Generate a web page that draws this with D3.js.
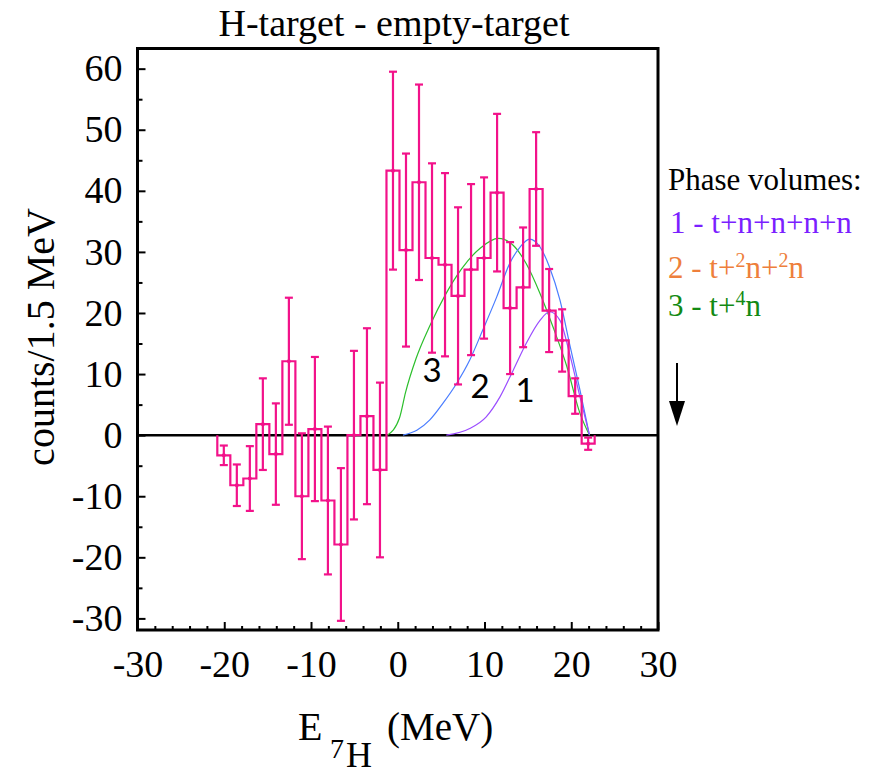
<!DOCTYPE html>
<html>
<head>
<meta charset="utf-8">
<script src="https://cdn.jsdelivr.net/npm/d3@7"></script>
<style>
  body { margin: 0; background: #ffffff; }
  svg { display: block; }
</style>
</head>
<body>
<svg class="vis" width="869" height="776"></svg>
<script>
// histogram: H-target minus empty-target, 1.5 MeV bins
var binCenters = [-20.05, -18.55, -17.05, -15.55, -14.05, -12.55, -11.05, -9.55, -8.05, -6.55,
    -5.05, -3.55, -2.05, -0.55, 0.95, 2.45, 3.95, 5.45, 6.95, 8.45,
    9.95, 11.45, 12.95, 14.45, 15.95, 17.45, 18.95, 20.45, 21.95];
var counts = [-3.3, -8.2, -7.1, 1.8, -3.1, 12.1, -10.0, 1.0, -10.7, -17.9,
    0.0, 3.1, -5.7, 43.3, 30.3, 41.4, 29.0, 27.9, 22.8, 27.1,
    29.0, 39.7, 20.8, 24.2, 40.3, 20.4, 15.5, 6.4, -1.4];
var errors = [1.6, 3.4, 5.3, 7.5, 8.3, 10.4, 10.3, 11.8, 12.1, 12.5,
    13.8, 14.4, 14.3, 16.2, 15.8, 16.0, 15.5, 15.0, 14.5, 14.0,
    13.2, 12.9, 10.8, 9.8, 9.3, 6.8, 5.1, 2.9, 1.0];
var binWidth = 1.5;

// phase volume curves
var phase1E = [5.6, 8.3, 10.2, 11.8, 13.3, 14.8, 16.4, 17.5, 18.7, 19.8, 21.0, 22.1];
var phase1V = [0, 1.1, 3.0, 6.3, 10.6, 15.0, 18.8, 20.2, 18.8, 13.4, 6.3, 0];
var phase2E = [0.6, 2.2, 3.7, 5.2, 6.8, 8.3, 9.8, 11.4, 12.9, 14.1, 15.2, 16.4, 17.5, 18.7, 19.8, 21.0, 22.1];
var phase2V = [0, 0.8, 2.5, 5.2, 8.5, 12.3, 17.2, 22.6, 28.1, 30.8, 32.1, 30.8, 27.5, 22.1, 15.0, 7.4, 0];
var phase3E = [-1.2, 0.2, 0.9, 2.1, 3.7, 5.5, 7.4, 9.5, 11.6, 13.3, 14.8, 16.4, 17.9, 19.5, 21.0, 22.1];
var phase3V = [0, 2.8, 7.0, 12.5, 17.9, 23.0, 27.3, 30.6, 32.2, 31.1, 28.1, 23.2, 17.7, 11.2, 3.6, 0];

var xTicks = [-30, -20, -10, 0, 10, 20, 30];
var xMinorTicks = [-28, -26, -24, -22, -18, -16, -14, -12, -8, -6, -4, -2, 2, 4, 6, 8, 12, 14, 16, 18, 22, 24, 26, 28];
var yTicks = [-30, -20, -10, 0, 10, 20, 30, 40, 50, 60];
var yMinorTicks = [-25, -15, -5, 5, 15, 25, 35, 45, 55];

var serif = "'Liberation Serif', 'Times New Roman', serif";
var pink = "#f2128a";

var svg = d3.select(".vis");

var x = d3.scaleLinear().domain([-30, 30]).range([137.5, 658]);
var y = d3.scaleLinear().domain([-31.9, 63.3]).range([630, 48.5]);

// title
svg.append("text")
    .attr("x", 394)
    .attr("y", 36)
    .attr("text-anchor", "middle")
    .attr("font-family", serif)
    .attr("font-size", "38px")
    .text("H-target - empty-target");

// axes (plain hyphen for negatives, like the original)
var fmt = d => String(d);

var yAxis = svg.append("g")
    .attr("transform", "translate(" + x.range()[0] + ",0)")
    .call(d3.axisLeft(y).tickValues(yTicks).tickSize(-8).tickPadding(15).tickFormat(fmt));
yAxis.select(".domain").remove();
yAxis.selectAll("line").attr("stroke", "#000").attr("stroke-width", 2);
yAxis.selectAll("text").attr("font-family", serif).attr("font-size", "38px").attr("fill", "#000");

var yMinor = svg.append("g")
    .attr("transform", "translate(" + x.range()[0] + ",0)")
    .call(d3.axisLeft(y).tickValues(yMinorTicks).tickSize(-5).tickFormat(""));
yMinor.select(".domain").remove();
yMinor.selectAll("line").attr("stroke", "#000").attr("stroke-width", 2);

var xAxis = svg.append("g")
    .attr("transform", "translate(0," + y.range()[0] + ")")
    .call(d3.axisBottom(x).tickValues(xTicks).tickSize(-8).tickPadding(20).tickFormat(fmt));
xAxis.select(".domain").remove();
xAxis.selectAll("line").attr("stroke", "#000").attr("stroke-width", 2);
xAxis.selectAll("text").attr("font-family", serif).attr("font-size", "38px").attr("fill", "#000");

var xMinor = svg.append("g")
    .attr("transform", "translate(0," + y.range()[0] + ")")
    .call(d3.axisBottom(x).tickValues(xMinorTicks).tickSize(-4).tickFormat(""));
xMinor.select(".domain").remove();
xMinor.selectAll("line").attr("stroke", "#000").attr("stroke-width", 2);

// frame
svg.append("rect")
    .attr("x", x.range()[0])
    .attr("y", y.range()[1])
    .attr("width", x.range()[1] - x.range()[0])
    .attr("height", y.range()[0] - y.range()[1])
    .attr("fill", "none")
    .attr("stroke", "#000")
    .attr("stroke-width", 3);

// zero line
svg.append("line")
    .attr("x1", x(-30))
    .attr("x2", x(30))
    .attr("y1", y(0))
    .attr("y2", y(0))
    .attr("stroke", "#000")
    .attr("stroke-width", 2.5);

// curves
var curves = [
    { e: phase3E, v: phase3V, color: "#2cbf2c" },
    { e: phase2E, v: phase2V, color: "#4a7dff" },
    { e: phase1E, v: phase1V, color: "#9b4dff" }
];
var line = d3.line()
    .x(d => x(d[0]))
    .y(d => y(d[1]))
    .curve(d3.curveMonotoneX);
svg.selectAll(".phase")
    .data(curves)
    .join("path")
    .attr("class", "phase")
    .attr("d", c => line(c.e.map((e, i) => [e, c.v[i]])))
    .attr("fill", "none")
    .attr("stroke", c => c.color)
    .attr("stroke-width", 1.2);

// histogram step outline
var steps = [[binCenters[0] - binWidth / 2, 0]];
binCenters.forEach(function (c, i) {
    steps.push([c - binWidth / 2, counts[i]]);
    steps.push([c + binWidth / 2, counts[i]]);
});
steps.push([binCenters[binCenters.length - 1] + binWidth / 2, 0]);
svg.append("path")
    .attr("d", d3.line().x(d => x(d[0])).y(d => y(d[1]))(steps))
    .attr("fill", "none")
    .attr("stroke", pink)
    .attr("stroke-width", 2.2);

// error bars
var bars = svg.append("g").attr("stroke", pink).attr("stroke-width", 2.2);
bars.selectAll(".err")
    .data(binCenters)
    .join("line")
    .attr("class", "err")
    .attr("x1", d => x(d))
    .attr("x2", d => x(d))
    .attr("y1", (d, i) => y(counts[i] + errors[i]))
    .attr("y2", (d, i) => y(counts[i] - errors[i]));
bars.selectAll(".capTop")
    .data(binCenters)
    .join("line")
    .attr("class", "capTop")
    .attr("x1", d => x(d) - 4)
    .attr("x2", d => x(d) + 4)
    .attr("y1", (d, i) => y(counts[i] + errors[i]))
    .attr("y2", (d, i) => y(counts[i] + errors[i]));
bars.selectAll(".capBot")
    .data(binCenters)
    .join("line")
    .attr("class", "capBot")
    .attr("x1", d => x(d) - 4)
    .attr("x2", d => x(d) + 4)
    .attr("y1", (d, i) => y(counts[i] - errors[i]))
    .attr("y2", (d, i) => y(counts[i] - errors[i]));
svg.selectAll(".dot")
    .data(binCenters)
    .join("circle")
    .attr("class", "dot")
    .attr("cx", d => x(d))
    .attr("cy", (d, i) => y(counts[i]))
    .attr("r", 2)
    .attr("fill", pink);

// curve numbers
var sans = "Lato, 'Open Sans', sans-serif";
[["3", 432, 382], ["2", 480, 398], ["1", 525, 402]].forEach(function (t) {
    svg.append("text")
        .attr("x", t[1])
        .attr("y", t[2])
        .attr("text-anchor", "middle")
        .attr("font-family", sans)
        .attr("font-size", "33px")
        .attr("fill", "#000")
        .text(t[0]);
});

// y label
svg.append("text")
    .attr("transform", "translate(54,337) rotate(-90)")
    .attr("text-anchor", "middle")
    .attr("font-family", serif)
    .attr("font-size", "40px")
    .text("counts/1.5 MeV");

// x label E_{7H} (MeV)
svg.append("text").attr("x", 298).attr("y", 740)
    .attr("font-family", serif).attr("font-size", "40px").text("E");
svg.append("text").attr("x", 330).attr("y", 758)
    .attr("font-family", serif).attr("font-size", "28px").text("7");
svg.append("text").attr("x", 346).attr("y", 767)
    .attr("font-family", serif).attr("font-size", "36px").text("H");
svg.append("text").attr("x", 387).attr("y", 740)
    .attr("font-family", serif).attr("font-size", "39px").text("(MeV)");

// legend
var legend = svg.append("g")
    .attr("font-family", serif)
    .attr("font-size", "31px");
legend.append("text").attr("x", 668).attr("y", 190).attr("fill", "#000").text("Phase volumes:");
legend.append("text").attr("x", 670).attr("y", 233).attr("fill", "#7b1fff").text("1 - t+n+n+n+n");
var l2 = legend.append("text").attr("x", 668).attr("y", 278).attr("fill", "#ee7f3c");
l2.append("tspan").text("2 - t+");
l2.append("tspan").attr("dy", -11).attr("font-size", "20px").text("2");
l2.append("tspan").attr("dy", 11).text("n+");
l2.append("tspan").attr("dy", -11).attr("font-size", "20px").text("2");
l2.append("tspan").attr("dy", 11).text("n");
var l3 = legend.append("text").attr("x", 668).attr("y", 316).attr("fill", "#138a13");
l3.append("tspan").text("3 - t+");
l3.append("tspan").attr("dy", -11).attr("font-size", "20px").text("4");
l3.append("tspan").attr("dy", 11).text("n");

// arrow
svg.append("line")
    .attr("x1", 677).attr("x2", 677)
    .attr("y1", 363).attr("y2", 405)
    .attr("stroke", "#000").attr("stroke-width", 2);
svg.append("path")
    .attr("d", "M669,401 L685,401 L677,426 Z")
    .attr("fill", "#000");
</script>
</body>
</html>
